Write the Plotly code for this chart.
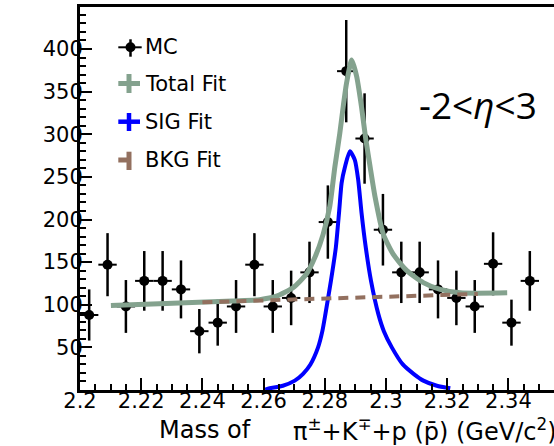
import plotly.graph_objects as go

# ---- MC histogram (bin centres, contents, errors) ----
mass_bins = [2.203, 2.209, 2.215, 2.221, 2.227, 2.233, 2.239, 2.245, 2.251,
             2.257, 2.263, 2.269, 2.275, 2.281, 2.287, 2.293, 2.299, 2.305,
             2.311, 2.317, 2.323, 2.329, 2.335, 2.341, 2.347]
mc_counts = [88, 147, 98, 128, 128, 118, 69, 79, 98, 147, 98, 108, 138, 197,
             374, 295, 188, 138, 138, 118, 108, 98, 148, 79, 128]
mc_errors = [30, 37, 31, 35, 35, 34, 26, 27, 31, 37, 31, 32, 36, 43, 60, 53,
             42, 36, 36, 34, 32, 31, 37, 27, 35]
bin_half_width = [0.003] * len(mass_bins)

# ---- fit curves ----
total_x = [2.2101, 2.2281, 2.2499, 2.2587, 2.2642, 2.2696, 2.2740, 2.2767,
           2.2794, 2.2816, 2.2833, 2.2849, 2.2860, 2.2871, 2.2888, 2.2904,
           2.2920, 2.2934, 2.2948, 2.2964, 2.2991, 2.3024, 2.3068, 2.3122,
           2.3177, 2.3243, 2.3396]
total_y = [99, 101.5, 104.5, 106, 110, 120, 136, 155, 182, 215, 262, 301, 332,
           360, 387, 368, 332, 294, 262, 227, 183, 159, 140, 126, 118, 114, 114]

sig_x = [2.2605, 2.2620, 2.2663, 2.2702, 2.2729, 2.2753, 2.2778, 2.2792,
         2.2802, 2.2820, 2.2836, 2.2847, 2.2855, 2.2866, 2.2882, 2.2898,
         2.2909, 2.2920, 2.2934, 2.2951, 2.2975, 2.2993, 2.3019, 2.3055,
         2.3090, 2.3122, 2.3166, 2.3210]
sig_y = [0.5, 2, 5, 11, 19, 30, 50, 69, 89, 128, 167, 210, 243, 262, 280, 270,
         247, 208, 167, 128, 89, 69, 50, 30, 19, 11, 5, 2]

bkg_x = [2.240, 2.2587, 2.2948, 2.330]
bkg_y = [103, 105, 108.6, 112.6]

x_ticks = [2.2, 2.22, 2.24, 2.26, 2.28, 2.3, 2.32, 2.34]
x_tick_labels = ["2.2", "2.22", "2.24", "2.26", "2.28", "2.3", "2.32", "2.34"]
y_ticks = [50, 100, 150, 200, 250, 300, 350, 400]
y_tick_labels = ["50", "100", "150", "200", "250", "300", "350", "400"]

legend_labels = ["MC", "Total Fit", "SIG Fit", "BKG Fit"]

C_TOTAL = "#84a28e"
C_SIG = "#0000ff"
C_BKG = "#93705f"
FONT = "DejaVu Sans"

W, H = 554, 446
L, T, B = 80, 7, 56
PW, PH = W - L, H - T - B


def px(x):
    return (x - L) / PW


def py(y):
    return (H - B - y) / PH


fig = go.Figure()

fig.add_trace(go.Scatter(
    x=mass_bins, y=mc_counts, mode="markers",
    marker=dict(color="black", size=10, symbol="circle"),
    error_y=dict(type="data", array=mc_errors, color="black", thickness=2.5, width=0),
    error_x=dict(type="data", array=bin_half_width, color="black", thickness=2, width=0),
    showlegend=False,
))
fig.add_trace(go.Scatter(
    x=total_x, y=total_y, mode="lines",
    line=dict(color=C_TOTAL, width=5, shape="spline", smoothing=0.6),
    showlegend=False,
))
fig.add_trace(go.Scatter(
    x=sig_x, y=sig_y, mode="lines",
    line=dict(color=C_SIG, width=4, shape="spline", smoothing=0.6),
    showlegend=False,
))
fig.add_trace(go.Scatter(
    x=bkg_x, y=bkg_y, mode="lines",
    line=dict(color=C_BKG, width=4, dash="10px,7px"),
    showlegend=False,
))

shapes = []
annotations = []


def seg(x0, y0, x1, y1, color, width):
    shapes.append(dict(type="line", xref="paper", yref="paper",
                       x0=px(x0), y0=py(y0), x1=px(x1), y1=py(y1),
                       line=dict(color=color, width=width)))


# legend glyphs
seg(118.3, 47.3, 141.7, 47.3, "black", 2)
seg(130.5, 39.3, 130.5, 56.7, "black", 2.5)
shapes.append(dict(type="circle", xref="paper", yref="paper",
                   x0=px(125.5), x1=px(135.5), y0=py(52.3), y1=py(42.3),
                   fillcolor="black", line=dict(color="black", width=0)))

seg(118.3, 83.5, 140, 83.5, C_TOTAL, 5)
seg(129, 74, 129, 93, C_TOTAL, 5)

seg(118.3, 121.7, 140, 121.7, C_SIG, 4.5)
seg(129, 113, 129, 131, C_SIG, 4.5)

seg(118.3, 160, 128, 160, C_BKG, 5)
seg(129, 151.7, 129, 170, C_BKG, 5)

for lab, yc in zip(legend_labels, [47.3, 84, 122, 160.5]):
    annotations.append(dict(text=lab, xref="paper", yref="paper",
                            x=px(143), y=py(yc), xanchor="left", yanchor="middle",
                            showarrow=False, font=dict(family=FONT, size=21, color="black")))

annotations.append(dict(text="-2&lt;<i>η</i>&lt;3", xref="paper", yref="paper",
                        x=px(478), y=py(104), xanchor="center", yanchor="middle",
                        showarrow=False,
                        font=dict(family="Open Sans", size=37, color="black")))

annotations.append(dict(text="Mass of", xref="paper", yref="paper",
                        x=px(157), y=py(430), xanchor="left", yanchor="middle",
                        showarrow=False, font=dict(family=FONT, size=24, color="black")))
annotations.append(dict(text="π<sup>±</sup>+K<sup>∓</sup>+p (p\u0304) (GeV/c<sup>2</sup>)",
                        xref="paper", yref="paper",
                        x=px(291), y=py(430), xanchor="left", yanchor="middle",
                        showarrow=False, font=dict(family=FONT, size=24, color="black")))

fig.update_layout(
    width=W, height=H,
    margin=dict(l=L, r=0, t=T, b=B, pad=0),
    paper_bgcolor="white", plot_bgcolor="white",
    showlegend=False,
    shapes=shapes, annotations=annotations,
    xaxis=dict(
        range=[2.2, 2.2 + PW / 3060], showgrid=False, zeroline=False,
        tickmode="array", tickvals=x_ticks, ticktext=x_tick_labels,
        ticks="inside", ticklen=12, tickwidth=2, tickcolor="black",
        minor=dict(dtick=0.005, tick0=2.2, ticks="inside", ticklen=6,
                   tickwidth=2, tickcolor="black", showgrid=False),
        showline=True, linecolor="black", linewidth=3, mirror=True,
        ticklabelstandoff=-10,
        tickfont=dict(family=FONT, size=21, color="black"),
    ),
    yaxis=dict(
        range=[0, PH / 0.8525], showgrid=False, zeroline=False,
        tickmode="array", tickvals=y_ticks, ticktext=y_tick_labels,
        ticks="inside", ticklen=12, tickwidth=2, tickcolor="black",
        minor=dict(dtick=10, tick0=0, ticks="inside", ticklen=6,
                   tickwidth=2, tickcolor="black", showgrid=False),
        showline=True, linecolor="black", linewidth=3,
        ticklabelstandoff=-10,
        tickfont=dict(family=FONT, size=21, color="black"),
    ),
)

fig.write_html("out.html")
